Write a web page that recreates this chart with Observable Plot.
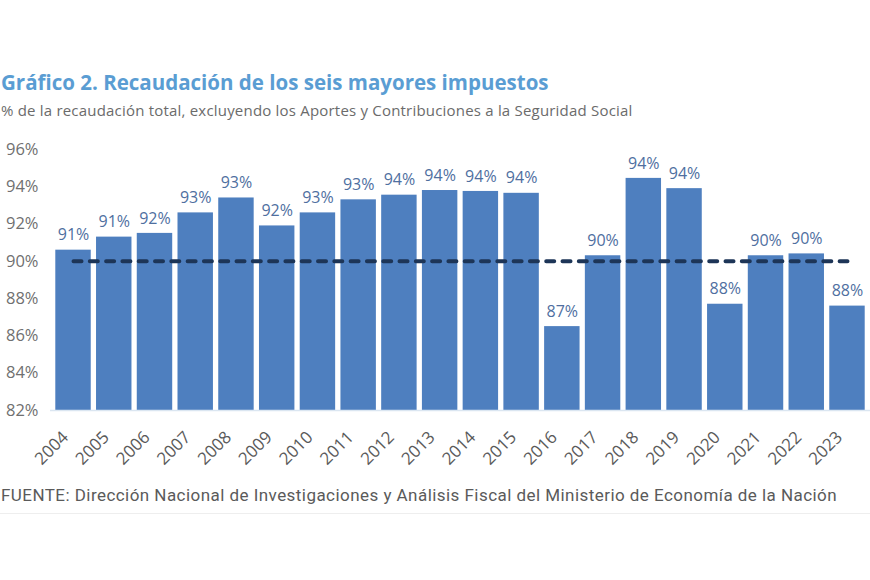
<!DOCTYPE html>
<html>
<head>
<meta charset="utf-8">
<script src="https://cdn.jsdelivr.net/npm/d3@7"></script>
<script src="https://cdn.jsdelivr.net/npm/@observablehq/plot@0.6"></script>
<style>
  html, body { margin: 0; padding: 0; background: #fff; }
  #wrap { position: relative; width: 870px; height: 580px; overflow: hidden; background: #fff; }
  .title { position: absolute; left: 1px; top: 68px; font-family: "Open Sans", sans-serif; font-weight: 700; font-size: 20.5px; color: #5a9dd3; white-space: nowrap; }
  .subtitle { position: absolute; left: 1px; top: 100px; font-family: "Open Sans", sans-serif; font-size: 15px; letter-spacing: 0.2px; color: #6b6b6b; white-space: nowrap; }
  .source { position: absolute; left: 1px; top: 485px; font-family: "Roboto", sans-serif; font-size: 17px; letter-spacing: 0.45px; color: #5a5a5a; white-space: nowrap; }
  .hr { position: absolute; left: 0; top: 513px; width: 870px; height: 1px; background: #eeeeee; }
  #chart { position: absolute; left: 0; top: 130px; }
</style>
</head>
<body>
<div id="wrap">
  <div class="title">Gráfico 2. Recaudación de los seis mayores impuestos</div>
  <div class="subtitle">% de la recaudación total, excluyendo los Aportes y Contribuciones a la Seguridad Social</div>
  <div id="chart"></div>
  <div class="source">FUENTE: Dirección Nacional de Investigaciones y Análisis Fiscal del Ministerio de Economía de la Nación</div>
  <div class="hr"></div>
</div>
<script>
const years = ["2004","2005","2006","2007","2008","2009","2010","2011","2012","2013","2014","2015","2016","2017","2018","2019","2020","2021","2022","2023"];
const shares = [90.6, 91.3, 91.5, 92.6, 93.4, 91.9, 92.6, 93.3, 93.55, 93.8, 93.75, 93.65, 86.5, 90.3, 94.45, 93.9, 87.7, 90.3, 90.4, 87.6];
const reference = 90;
const yTicks = [82, 84, 86, 88, 90, 92, 94, 96];

const data = years.map((year, i) => ({year, value: shares[i]}));

const chart = Plot.plot({
  width: 870,
  height: 350,
  marginLeft: 50,
  marginRight: 0,
  marginTop: 19,
  marginBottom: 70,
  style: {fontFamily: "Open Sans, sans-serif", background: "transparent"},
  x: {domain: years, padding: 0.13, round: false, label: null},
  y: {domain: [82, 96], label: null},
  marks: [
    Plot.barY(data, {x: "year", y1: 82, y2: "value", fill: "#4e7fbf"}),
    Plot.ruleY([82], {stroke: "#dbe6f1", strokeWidth: 1.5}),
    Plot.lineY(data, {x: "year", y: () => reference, stroke: "#1d3557", strokeWidth: 4, strokeDasharray: "8,8.3", strokeLinecap: "round"}),
    Plot.text(data, {x: "year", y: "value", text: d => Math.round(d.value) + "%", dy: -15, fill: "#4f6f9f", fontSize: 16}),
    Plot.axisY({ticks: yTicks, tickSize: 0, tickPadding: 12, tickFormat: d => d + "%", fontSize: 16.5, fill: "#707070", label: null}),
    Plot.axisX({tickSize: 0, tickRotate: -45, tickPadding: 24, dx: -8, fontSize: 17, fill: "#5a5a5a", label: null})
  ]
});
document.getElementById("chart").appendChild(chart);
</script>
</body>
</html>
